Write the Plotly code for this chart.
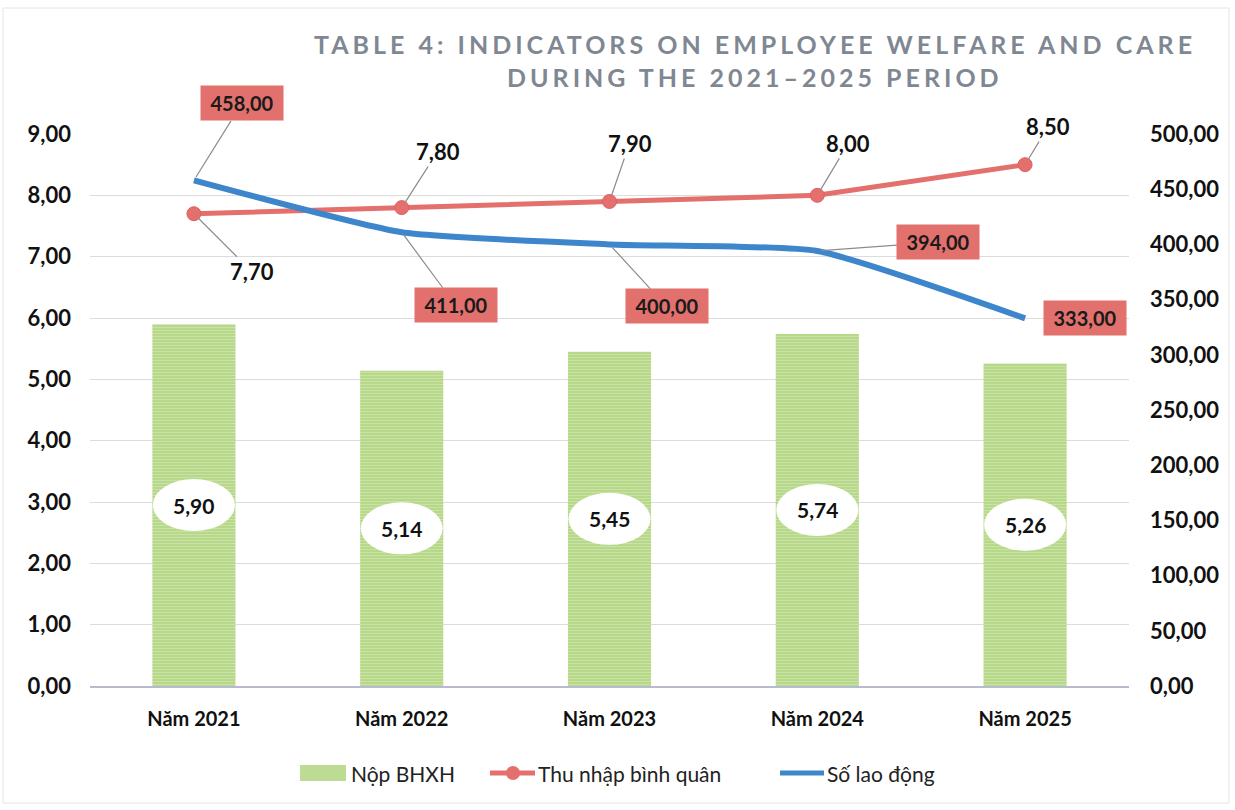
import plotly.graph_objects as go

# Data (2021-2025)
years = ["Năm 2021", "Năm 2022", "Năm 2023", "Năm 2024", "Năm 2025"]
bhxh = [5.90, 5.14, 5.45, 5.74, 5.26]           # Nộp BHXH (left axis)
income = [7.70, 7.80, 7.90, 8.00, 8.50]         # Thu nhập bình quân (left axis)
workers = [458.0, 411.0, 400.0, 394.0, 333.0]   # Số lao động (right axis)
series_names = ["Nộp BHXH", "Thu nhập bình quân", "Số lao động"]

left_ticks = [0, 1, 2, 3, 4, 5, 6, 7, 8, 9]
right_ticks = [0, 50, 100, 150, 200, 250, 300, 350, 400, 450, 500]

title_lines = ["TABLE 4: INDICATORS ON EMPLOYEE WELFARE AND CARE",
               "DURING THE 2021–2025 PERIOD"]

xs = list(range(len(years)))

# label offsets (pixels) for the line data labels
income_off = [(58, 58), (36, -56), (20, -58), (31, -52), (23, -38)]
workers_off = [(48, -77), (54, 73), (57, 62), (121, -9), (60, 0)]

FONT = "Lato"
RED = "#E3706C"
BLUE = "#3E86CB"
BOX = "#E2716D"
GREEN = "#BDDC93"

# plot-area geometry in page pixels (for paper-coordinate placement)
W, H = 1235, 810
L, R, T, B = 90, 106, 134, 124
PW, PH = W - L - R, H - T - B


def px(x):
    return (x - L) / PW


def py(y):
    return (H - B - y) / PH


def fmt(v):
    return f"{v:.2f}".replace(".", ",")


fig = go.Figure()

fig.add_trace(go.Bar(
    x=xs, y=bhxh, name=series_names[0], width=0.4,
    marker=dict(color=GREEN, line=dict(width=0),
                pattern=dict(shape="-", fgcolor="#DCEDC6", bgcolor="#B7D889",
                             size=3, solidity=0.35)),
    yaxis="y", showlegend=False,
))

fig.add_trace(go.Scatter(
    x=xs, y=income, name=series_names[1], mode="lines+markers",
    line=dict(color=RED, width=5),
    marker=dict(color=RED, size=14, line=dict(color="#E06060", width=1)),
    yaxis="y", showlegend=False,
))

fig.add_trace(go.Scatter(
    x=xs, y=workers, name=series_names[2], mode="lines",
    line=dict(color=BLUE, width=6, shape="spline", smoothing=0.5),
    yaxis="y2", showlegend=False,
))

annotations = []
shapes = []

# bar value labels on white ellipses, centred in each bar
for i, v in enumerate(bhxh):
    shapes.append(dict(
        type="circle", xref="x", yref="y", xsizemode="pixel", ysizemode="pixel",
        xanchor=i, yanchor=v / 2, x0=-41, x1=41, y0=-26, y1=26,
        fillcolor="white", line=dict(width=0), layer="above",
    ))
    annotations.append(dict(
        x=i, y=v / 2, xref="x", yref="y", text=f"<b>{fmt(v)}</b>", showarrow=False,
        font=dict(family=FONT, size=21, color="#111"),
    ))

# income labels with leader lines
for i, v in enumerate(income):
    ax, ay = income_off[i]
    annotations.append(dict(
        x=i, y=v, xref="x", yref="y", text=f"<b>{fmt(v)}</b>",
        showarrow=True, arrowhead=0, arrowwidth=1.2, arrowcolor="#8C8C8C",
        ax=ax, ay=ay, standoff=6,
        font=dict(family=FONT, size=22, color="#111"),
    ))

# worker-count labels in filled boxes
for i, v in enumerate(workers):
    ax, ay = workers_off[i]
    annotations.append(dict(
        x=i, y=v, xref="x", yref="y2", text=f"<b>{fmt(v)}</b>",
        showarrow=True, arrowhead=0, arrowwidth=1.2,
        arrowcolor="#8C8C8C" if i < 4 else "rgba(0,0,0,0)",
        ax=ax, ay=ay, standoff=4,
        bgcolor=BOX, borderpad=5, width=72, height=24,
        font=dict(family=FONT, size=20, color="#1a1a1a"),
    ))

# two-line title
for k, (line, yc) in enumerate(zip(title_lines, [44, 77])):
    annotations.append(dict(
        x=px(755), y=py(yc), xref="paper", yref="paper", xanchor="center",
        yanchor="middle", text=f"<b>{line}</b>", showarrow=False,
        font=dict(family=FONT, size=25, color="#7F8793"),
    ))

# legend drawn below the plot: swatches + labels
leg_y = 773
shapes.append(dict(type="rect", xref="paper", yref="paper",
                   x0=px(300), x1=px(346), y0=py(781), y1=py(765),
                   fillcolor=GREEN, line=dict(width=0)))
shapes.append(dict(type="line", xref="paper", yref="paper",
                   x0=px(490), x1=px(535), y0=py(leg_y), y1=py(leg_y),
                   line=dict(color=RED, width=5)))
shapes.append(dict(type="circle", xref="paper", yref="paper",
                   x0=px(506), x1=px(520), y0=py(780), y1=py(766),
                   fillcolor=RED, line=dict(width=0)))
shapes.append(dict(type="line", xref="paper", yref="paper",
                   x0=px(780), x1=px(824), y0=py(leg_y), y1=py(leg_y),
                   line=dict(color=BLUE, width=5)))
for name, x0 in zip(series_names, [349, 536, 825]):
    annotations.append(dict(
        x=px(x0), y=py(leg_y), xref="paper", yref="paper", xanchor="left",
        yanchor="middle", text=name, showarrow=False,
        font=dict(family=FONT, size=21, color="#222"),
    ))

# faint outer frame of the chart
shapes.append(dict(
    type="rect", xref="paper", yref="paper",
    x0=px(3), x1=px(1229), y0=py(803), y1=py(8),
    line=dict(color="#E4E4E4", width=1), fillcolor="rgba(0,0,0,0)", layer="below",
))

fig.update_layout(
    width=W, height=H,
    margin=dict(l=L, r=R, t=T, b=B),
    paper_bgcolor="white", plot_bgcolor="white",
    separators=",.",
    font=dict(family=FONT, color="#111"),
    showlegend=False,
    xaxis=dict(
        tickmode="array", tickvals=xs, ticktext=[f"<b>{y}</b>" for y in years],
        range=[-0.5, 4.5], showgrid=False, zeroline=False,
        showline=True, linecolor="#B7BBCB", linewidth=2, ticks="",
        tickfont=dict(family=FONT, size=20, color="#111"),
        ticklabelstandoff=14,
    ),
    yaxis=dict(
        range=[0, 9], tickmode="array", tickvals=left_ticks,
        ticktext=[f"<b>{fmt(t)}</b>" for t in left_ticks],
        showgrid=True, gridcolor="#DCDCDC", gridwidth=1, zeroline=False,
        tickfont=dict(family=FONT, size=22, color="#111"),
        ticklabelstandoff=18,
    ),
    yaxis2=dict(
        range=[0, 500], overlaying="y", side="right", tickmode="array",
        tickvals=right_ticks, ticktext=[f"<b>{fmt(t)}</b>" for t in right_ticks],
        showgrid=False, zeroline=False,
        tickfont=dict(family=FONT, size=22, color="#111"),
        ticklabelstandoff=20,
    ),
    annotations=annotations,
    shapes=shapes,
)

# widen the title's letter spacing
post = """
document.querySelectorAll('.annotation-text').forEach(function (el) {
  var s = el.textContent;
  if (s.indexOf('TABLE 4') === 0 || s.indexOf('DURING THE') === 0) {
    el.style.letterSpacing = '4px';
  }
});
"""

fig.write_html("out.html", post_script=post)
